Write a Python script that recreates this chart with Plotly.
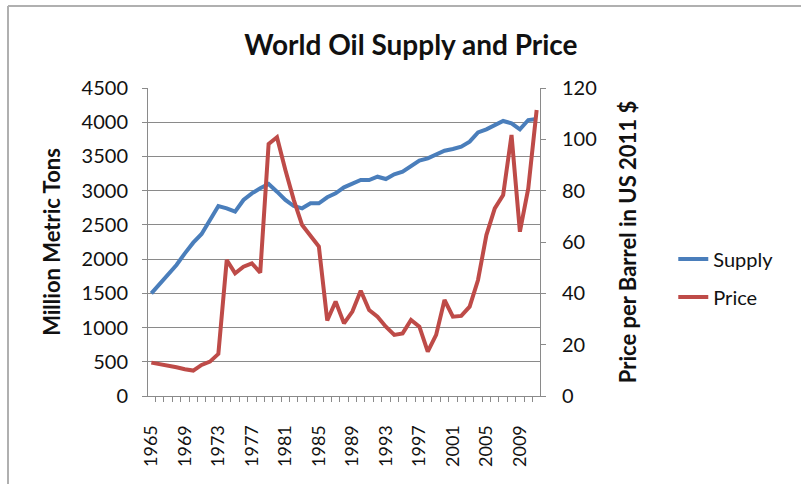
import plotly.graph_objects as go

years = list(range(1965, 2012))
supply = [1500, 1636, 1768, 1914, 2084, 2240, 2367, 2571, 2776, 2742,
          2693, 2864, 2961, 3034, 3097, 2985, 2864, 2776, 2742, 2815,
          2815, 2903, 2961, 3049, 3107, 3156, 3156, 3204, 3170, 3239,
          3278, 3351, 3438, 3472, 3536, 3584, 3609, 3643, 3716, 3852,
          3896, 3959, 4018, 3984, 3896, 4032, 4047]
price = [13.0, 12.5, 11.9, 11.2, 10.4, 9.9, 12.1, 13.4, 16.4, 53.0,
         47.8, 50.4, 51.7, 48.1, 98.2, 100.8, 88.1, 76.4, 66.6, 62.1,
         58.2, 29.4, 36.8, 28.3, 32.9, 41.0, 33.5, 30.9, 27.0, 23.8,
         24.4, 29.6, 27.0, 17.3, 23.8, 37.4, 30.9, 31.2, 34.8, 45.2,
         62.7, 73.1, 78.3, 101.7, 64.0, 80.9, 111.4]

FONT = "Lato"
GRID = "#8a8a8a"
TXT = "#111111"

fig = go.Figure()
fig.add_trace(go.Scatter(x=years, y=supply, name="Supply", mode="lines",
                         legendgroup="supply",
                         line=dict(color="#4A7EBB", width=4), yaxis="y"))
fig.add_trace(go.Scatter(x=years, y=price, name="Price", mode="lines",
                         legendgroup="price",
                         line=dict(color="#BE4B48", width=4), yaxis="y2"))

fig.update_layout(
    width=801, height=484,
    margin=dict(l=148, r=261, t=88, b=88),
    paper_bgcolor="white", plot_bgcolor="white",
    font=dict(family=FONT, size=20, color=TXT),
    title=dict(text="<b>World Oil Supply and Price</b>", x=0.513, xref="container",
               y=1 - 45 / 484, yref="container", xanchor="center", yanchor="middle",
               font=dict(family=FONT, size=28, color=TXT)),
    showlegend=True,
    legend=dict(x=1.34, y=0.508, xanchor="left", yanchor="top",
                font=dict(family=FONT, size=20, color=TXT),
                traceorder="grouped", tracegroupgap=9,
                bgcolor="rgba(0,0,0,0)"),
    xaxis=dict(range=[1964.6, 2011.4], tickmode="linear", tick0=1965, dtick=4,
               tickangle=-90, ticks="", showgrid=False, zeroline=False,
               showline=True, linecolor=GRID, linewidth=1,
               ticklabelstandoff=21,
               tickfont=dict(family=FONT, size=18, color=TXT),
               minor=dict(ticks="outside", dtick=1, tick0=1964.5, ticklen=5,
                          tickcolor=GRID, showgrid=False)),
    yaxis=dict(range=[0, 4500], dtick=500, showgrid=True, gridcolor=GRID,
               gridwidth=1, zeroline=False, showline=True, linecolor=GRID,
               ticks="outside", ticklen=5, tickcolor=GRID, ticklabelstandoff=10,
               tickfont=dict(family=FONT, size=20, color=TXT),
               title=dict(text="<b>Million Metric Tons</b>", standoff=14,
                          font=dict(family=FONT, size=22, color=TXT))),
    yaxis2=dict(range=[0, 120], dtick=20, overlaying="y", side="right",
                showgrid=False, zeroline=False, showline=True, linecolor=GRID,
                ticks="outside", ticklen=5, tickcolor=GRID, ticklabelstandoff=12,
                tickfont=dict(family=FONT, size=20, color=TXT),
                title=dict(text="<b>Price per Barrel in US 2011 $</b>", standoff=24,
                           font=dict(family=FONT, size=22, color=TXT))),
    shapes=[
        dict(type="line", xref="paper", yref="paper", x0=(8 - 148) / 392, x1=(801 - 148) / 392 + 0.01,
             y0=(396 - 6) / 308, y1=(396 - 6) / 308, line=dict(color="#b0b0b0", width=2)),
        dict(type="line", xref="paper", yref="paper", x0=(8 - 148) / 392, x1=(8 - 148) / 392,
             y0=(396 - 6) / 308, y1=(396 - 490) / 308, line=dict(color="#b0b0b0", width=2)),
    ],
)

fig.write_html("out.html")
